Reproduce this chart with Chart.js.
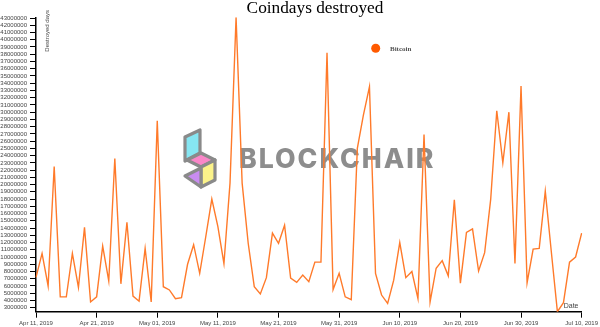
<!DOCTYPE html>
<html><head><meta charset="utf-8">
<script src="https://cdn.jsdelivr.net/npm/chart.js@4.4.1/dist/chart.umd.min.js"></script>
<style>html,body{margin:0;padding:0;background:#fff}#wrap{width:600px;height:327px;position:relative}</style>
</head><body><div id="wrap"><canvas id="c" width="600" height="327"></canvas></div>
<script>
const chartTitle = 'Coindays destroyed';
const seriesName = 'Bitcoin';
const yAxisTitle = 'Destroyed days';
const xAxisTitle = 'Date';
const startDate = [2019, 3, 11];
const dayCount = 91;
const values = [
  7200000, 10500000, 6000000, 22500000, 4500000, 4500000, 10500000, 5800000, 14100000, 3800000,
  4500000, 11500000, 6700000, 23600000, 6300000, 14800000, 4600000, 3900000, 11200000, 3800000,
  28800000, 5900000, 5450000, 4250000, 4400000, 9000000, 11700000, 7750000, 12800000, 18000000,
  14200000, 9100000, 20200000, 43100000, 20200000, 11900000, 5900000, 4900000, 7150000, 13300000,
  11900000, 14400000, 7100000, 6500000, 7500000, 6600000, 9300000, 9300000, 38200000, 5500000,
  7750000, 4500000, 4100000, 25000000, 29600000, 33500000, 7750000, 4750000, 3600000, 6800000,
  12000000, 7150000, 8000000, 4250000, 26900000, 3800000, 8450000, 9500000, 7400000, 17900000,
  6400000, 13400000, 13900000, 8070000, 10600000, 18000000, 30200000, 23000000, 30000000, 9100000,
  33600000, 6450000, 11100000, 11200000, 19100000, 10700000, 2450000, 3700000, 9300000, 10000000,
  13300000
];
const xTickLabels = ['Apr 11, 2019','Apr 21, 2019','May 01, 2019','May 11, 2019','May 21, 2019','May 31, 2019','Jun 10, 2019','Jun 20, 2019','Jun 30, 2019','Jul 10, 2019'];
const yTickValues = [3000000,4000000,5000000,6000000,7000000,8000000,9000000,10000000,11000000,12000000,
  13000000,14000000,15000000,16000000,17000000,18000000,19000000,20000000,21000000,22000000,
  23000000,24000000,25000000,26000000,27000000,28000000,29000000,30000000,31000000,32000000,
  33000000,34000000,35000000,36000000,37000000,38000000,39000000,40000000,41000000,42000000,43000000];

const categories = [];
for (let i = 0; i < dayCount; i++) {
  const d = new Date(Date.UTC(startDate[0], startDate[1], startDate[2] + i));
  categories.push(d.toISOString().slice(0, 10));
}

const decor = {
  id: 'decor',
  beforeDatasetsDraw(chart) {
    const ctx = chart.ctx;
    ctx.save();
    ctx.lineJoin = 'round';
    ctx.lineWidth = 3.2;
    ctx.strokeStyle = '#8a8a8a';
    const poly = (pts, fill) => {
      ctx.beginPath();
      ctx.moveTo(pts[0][0], pts[0][1]);
      for (let k = 1; k < pts.length; k++) ctx.lineTo(pts[k][0], pts[k][1]);
      ctx.closePath();
      if (fill) { ctx.fillStyle = fill; ctx.fill(); }
      ctx.stroke();
    };
    poly([[185,137],[200,130],[200,153],[185,161]], '#86e6f2');
    poly([[187,160],[201,153],[215,160],[201,167]], '#fa86c8');
    poly([[201,167],[215,160],[215,180],[201,187]], '#fbf38a');
    poly([[185,176],[201,168],[201,187]], '#c98cf0');
    ctx.fillStyle = 'rgba(135,135,135,0.95)';
    ctx.textBaseline = 'alphabetic';
    ctx.textAlign = 'left';
    try { ctx.letterSpacing = '2px'; } catch (e) {}
    ctx.font = '800 26px Inter';
    const w = ctx.measureText('BLOCKCHAIR').width;
    const size = 26 * 197 / w;
    ctx.font = '800 ' + size.toFixed(2) + 'px Inter';
    ctx.fillText('BLOCKCHAIR', 239, 168);
    ctx.restore();
  },
  afterDraw(chart) {
    const ctx = chart.ctx;
    ctx.save();
    ctx.fillStyle = '#000';
    ctx.textAlign = 'center';
    ctx.textBaseline = 'alphabetic';
    ctx.font = '17.3px "Liberation Serif"';
    ctx.fillText(chartTitle, 315, 12.5);
    ctx.beginPath();
    ctx.arc(375.7, 48.3, 4.5, 0, Math.PI * 2);
    ctx.fillStyle = '#ff5a00';
    ctx.fill();
    ctx.fillStyle = '#555';
    ctx.textAlign = 'left';
    ctx.textBaseline = 'middle';
    ctx.font = 'bold 7px "Liberation Serif"';
    ctx.fillText(seriesName, 390, 48.8);
    ctx.fillStyle = '#444';
    ctx.font = '7px "Liberation Sans"';
    ctx.textAlign = 'right';
    ctx.textBaseline = 'alphabetic';
    ctx.fillText(xAxisTitle, 578.5, 308);
    ctx.translate(48.5, 51.7);
    ctx.rotate(-Math.PI / 2);
    ctx.textAlign = 'left';
    ctx.font = '6px "Liberation Sans"';
    ctx.fillText(yAxisTitle, 0, 0);
    ctx.restore();
  }
};

new Chart(document.getElementById('c').getContext('2d'), {
  type: 'line',
  data: {
    labels: categories,
    datasets: [{
      label: seriesName,
      data: values,
      borderColor: '#ff7a2a',
      borderWidth: 1.4,
      pointRadius: 0,
      tension: 0,
      fill: false
    }]
  },
  options: {
    responsive: false,
    animation: false,
    devicePixelRatio: 1,
    layout: { padding: { top: 17.3, right: 16, left: 0, bottom: 0 } },
    plugins: { legend: { display: false }, title: { display: false }, tooltip: { enabled: false } },
    scales: {
      x: {
        type: 'category',
        offset: false,
        grid: { drawOnChartArea: false, tickLength: 6, color: '#000', lineWidth: 1 },
        border: { color: '#000', width: 1.5 },
        ticks: {
          autoSkip: false, maxRotation: 0, minRotation: 0, padding: 2,
          font: { family: 'Liberation Sans', size: 6 }, color: '#444',
          callback: (v, i) => (i % 10 === 0 ? xTickLabels[i / 10] : null)
        },
        afterFit: s => { s.height = 15.3; }
      },
      y: {
        min: Math.min(...values),
        max: Math.max(...values),
        grid: { drawOnChartArea: false, tickLength: 6, color: '#000', lineWidth: 1 },
        border: { color: '#000', width: 1.5 },
        ticks: {
          autoSkip: false, padding: 3,
          font: { family: 'Liberation Sans', size: 6, lineHeight: 1 }, color: '#444',
          callback: v => String(v)
        },
        afterBuildTicks: s => { s.ticks = yTickValues.map(v => ({ value: v })); },
        afterFit: s => { s.width = 36; }
      }
    }
  },
  plugins: [decor]
});
</script>
</body></html>
